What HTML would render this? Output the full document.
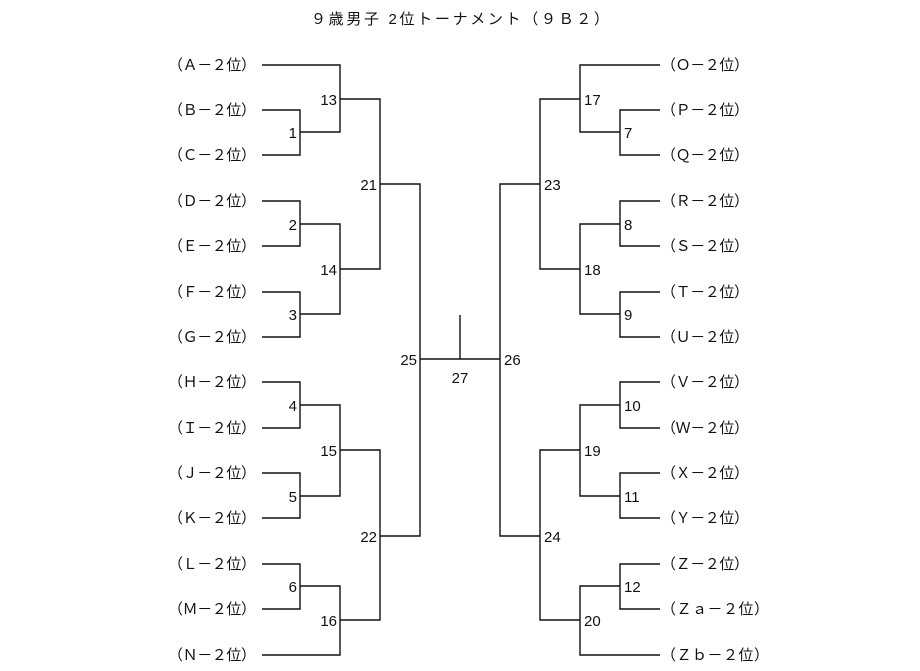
<!DOCTYPE html>
<html><head><meta charset="utf-8"><style>
html,body{margin:0;padding:0;background:#fff;}
svg{display:block;}
text{font-family:"Liberation Sans","Noto Sans CJK JP",sans-serif;font-size:15px;fill:#111;}
</style></head><body>
<svg width="920" height="671" viewBox="0 0 920 671" xmlns="http://www.w3.org/2000/svg">
<text x="311" y="24" textLength="298" lengthAdjust="spacing">９歳男子 2位トーナメント（９Ｂ２）</text>
<g stroke="#111" stroke-width="1.4" fill="none">
<path d="M262 65H340V132H300M262 110H300V155H262M300 132H340"/>
<path d="M340 99H380V269H340M262 201H300V246H262M300 224H340V314H300M262 292H300V337H262"/>
<path d="M380 184H420V536H380"/>
<path d="M262 382H300V428H262M300 405H340V496H300M262 473H300V518H262M340 450H380V620H340"/>
<path d="M262 564H300V609H262M300 586H340V655H262"/>
<path d="M420 359H500M460 315V359"/>
<path d="M660 65H580V132H620M660 110H620V155H660"/>
<path d="M580 99H540V269H580M660 201H620V246H660M620 224H580V314H620M660 292H620V337H660"/>
<path d="M540 184H500V536H540"/>
<path d="M660 382H620V428H660M620 405H580V496H620M660 473H620V518H660M580 450H540V620H580"/>
<path d="M660 564H620V609H660M620 586H580V655H660"/>
</g>
<g>
<text x="168" y="70" textLength="88" lengthAdjust="spacing">（Ａ－２位）</text>
<text x="168" y="115" textLength="88" lengthAdjust="spacing">（Ｂ－２位）</text>
<text x="168" y="160" textLength="88" lengthAdjust="spacing">（Ｃ－２位）</text>
<text x="168" y="206" textLength="88" lengthAdjust="spacing">（Ｄ－２位）</text>
<text x="168" y="251" textLength="88" lengthAdjust="spacing">（Ｅ－２位）</text>
<text x="168" y="297" textLength="88" lengthAdjust="spacing">（Ｆ－２位）</text>
<text x="168" y="342" textLength="88" lengthAdjust="spacing">（Ｇ－２位）</text>
<text x="168" y="387" textLength="88" lengthAdjust="spacing">（Ｈ－２位）</text>
<text x="168" y="433" textLength="88" lengthAdjust="spacing">（Ｉ－２位）</text>
<text x="168" y="478" textLength="88" lengthAdjust="spacing">（Ｊ－２位）</text>
<text x="168" y="523" textLength="88" lengthAdjust="spacing">（Ｋ－２位）</text>
<text x="168" y="569" textLength="88" lengthAdjust="spacing">（Ｌ－２位）</text>
<text x="168" y="614" textLength="88" lengthAdjust="spacing">（Ｍ－２位）</text>
<text x="168" y="660" textLength="88" lengthAdjust="spacing">（Ｎ－２位）</text>
<text x="661" y="70" textLength="88" lengthAdjust="spacing">（Ｏ－２位）</text>
<text x="661" y="115" textLength="88" lengthAdjust="spacing">（Ｐ－２位）</text>
<text x="661" y="160" textLength="88" lengthAdjust="spacing">（Ｑ－２位）</text>
<text x="661" y="206" textLength="88" lengthAdjust="spacing">（Ｒ－２位）</text>
<text x="661" y="251" textLength="88" lengthAdjust="spacing">（Ｓ－２位）</text>
<text x="661" y="297" textLength="88" lengthAdjust="spacing">（Ｔ－２位）</text>
<text x="661" y="342" textLength="88" lengthAdjust="spacing">（Ｕ－２位）</text>
<text x="661" y="387" textLength="88" lengthAdjust="spacing">（Ｖ－２位）</text>
<text x="661" y="433" textLength="88" lengthAdjust="spacing">（Ｗ－２位）</text>
<text x="661" y="478" textLength="88" lengthAdjust="spacing">（Ｘ－２位）</text>
<text x="661" y="523" textLength="88" lengthAdjust="spacing">（Ｙ－２位）</text>
<text x="661" y="569" textLength="88" lengthAdjust="spacing">（Ｚ－２位）</text>
<text x="661" y="614" textLength="108" lengthAdjust="spacing">（Ｚａ－２位）</text>
<text x="661" y="660" textLength="108" lengthAdjust="spacing">（Ｚｂ－２位）</text>
</g>
<g text-anchor="end">
<text x="297" y="138">1</text>
<text x="297" y="230">2</text>
<text x="297" y="320">3</text>
<text x="297" y="411">4</text>
<text x="297" y="502">5</text>
<text x="297" y="592">6</text>
<text x="337" y="105">13</text>
<text x="337" y="275">14</text>
<text x="337" y="456">15</text>
<text x="337" y="626">16</text>
<text x="377" y="190">21</text>
<text x="377" y="542">22</text>
<text x="417" y="365">25</text>
</g>
<g>
<text x="624" y="138">7</text>
<text x="624" y="230">8</text>
<text x="624" y="320">9</text>
<text x="624" y="411">10</text>
<text x="624" y="502">11</text>
<text x="624" y="592">12</text>
<text x="584" y="105">17</text>
<text x="584" y="275">18</text>
<text x="584" y="456">19</text>
<text x="584" y="626">20</text>
<text x="544" y="190">23</text>
<text x="544" y="542">24</text>
<text x="504" y="365">26</text>
</g>
<text x="460" y="383" text-anchor="middle">27</text>
</svg>
</body></html>
